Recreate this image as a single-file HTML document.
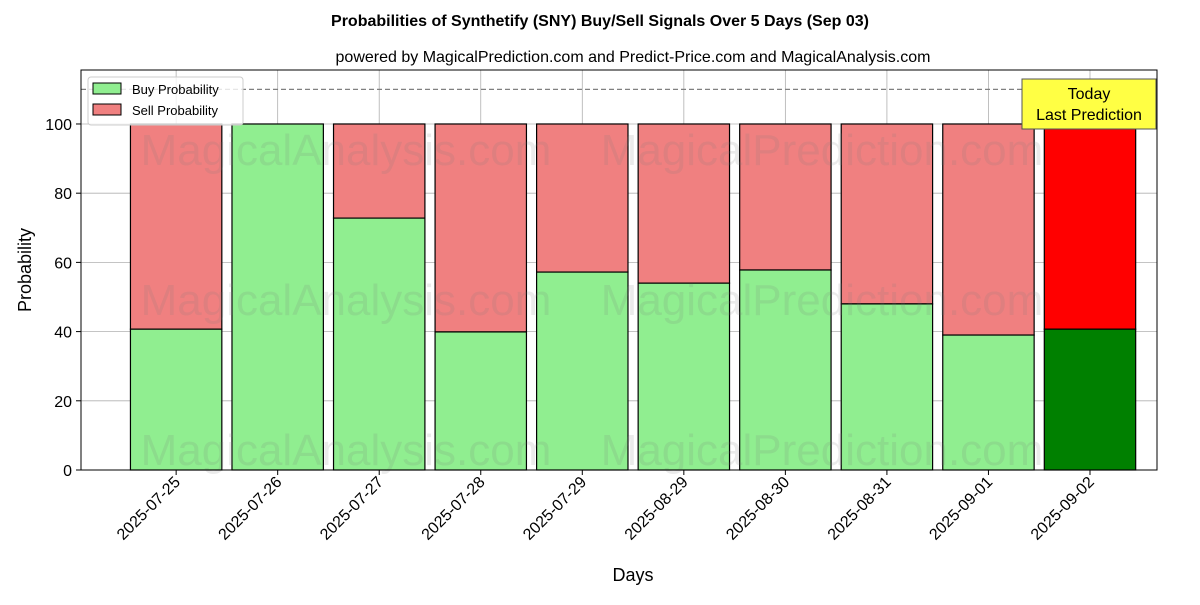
<!DOCTYPE html>
<html><head><meta charset="utf-8"><style>
body{margin:0;background:#fff;font-family:"Liberation Sans","DejaVu Sans",sans-serif;}
</style></head><body>
<svg id="chart" width="1200" height="600" xmlns="http://www.w3.org/2000/svg">
<text x="600" y="26" text-anchor="middle" font-size="16" font-weight="bold">Probabilities of Synthetify (SNY) Buy/Sell Signals Over 5 Days (Sep 03)</text>
<text x="633" y="62" text-anchor="middle" font-size="16">powered by MagicalPrediction.com and Predict-Price.com and MagicalAnalysis.com</text>
<g id="plot"></g>
<text x="633" y="581" text-anchor="middle" font-size="18">Days</text>
<text transform="translate(31,270) rotate(-90)" text-anchor="middle" font-size="18">Probability</text>
</svg>
<script>
const categories=["2025-07-25","2025-07-26","2025-07-27","2025-07-28","2025-07-29","2025-08-29","2025-08-30","2025-08-31","2025-09-01","2025-09-02"];
const buyValues=[40.7,100,72.8,39.9,57.2,54.0,57.8,48.0,39.0,40.7];
const yTicks=[0,20,40,60,80,100];
const NS="http://www.w3.org/2000/svg";
const L=81,R=1157,T=70,B=470;
const xmin=-0.937,xmax=9.66,ymin=0,ymax=115.6;
const xs=i=>L+(i-xmin)/(xmax-xmin)*(R-L);
const ys=v=>B-(v-ymin)/(ymax-ymin)*(B-T);
const bw=(xs(1)-xs(0))*0.9;
const g=document.getElementById('plot');
function mk(t,a){const e=document.createElementNS(NS,t);for(const k in a)e.setAttribute(k,a[k]);g.appendChild(e);return e;}
// grid
yTicks.forEach(v=>{const e=mk('line',{x1:L,x2:R,y1:ys(v),y2:ys(v),stroke:'#b0b0b0','stroke-width':0.8});

});
categories.forEach((c,i)=>{const e=mk('line',{x1:xs(i),x2:xs(i),y1:T,y2:B,stroke:'#b0b0b0','stroke-width':0.8});

});
// bars
categories.forEach((c,i)=>{
const last=i===categories.length-1;
const b=buyValues[i];
const s=mk('rect',{x:xs(i)-bw/2,y:ys(100),width:bw,height:ys(b)-ys(100),fill:last?'#ff0000':'#f08080',stroke:'#000','stroke-width':1.2});


const r=mk('rect',{x:xs(i)-bw/2,y:ys(b),width:bw,height:ys(0)-ys(b),fill:last?'#008000':'#90ee90',stroke:'#000','stroke-width':1.2});


});
// watermarks
[[346,150,'MagicalAnalysis.com'],[822,150,'MagicalPrediction.com'],[346,300,'MagicalAnalysis.com'],[822,300,'MagicalPrediction.com'],[346,450,'MagicalAnalysis.com'],[822,450,'MagicalPrediction.com']].forEach(w=>{
const t=mk('text',{x:w[0],y:w[1]+15,'text-anchor':'middle','font-size':44,fill:'rgba(120,120,120,0.15)'});t.textContent=w[2];

});
// dashed line
const d=mk('line',{x1:L,x2:R,y1:ys(110),y2:ys(110),stroke:'#808080','stroke-width':1.2,'stroke-dasharray':'5,3'});


// frame
const f=mk('rect',{x:L,y:T,width:R-L,height:B-T,fill:'none',stroke:'#000','stroke-width':1});


// y ticks
yTicks.forEach(v=>{mk('line',{x1:L-5,x2:L,y1:ys(v),y2:ys(v),stroke:'#000'});
const t=mk('text',{x:L-9,y:ys(v)+6,'text-anchor':'end','font-size':16});t.textContent=v;

});
// x ticks
categories.forEach((c,i)=>{mk('line',{x1:xs(i),x2:xs(i),y1:B,y2:B+5,stroke:'#000'});
const tx=xs(i)+5,ty=B+13;
const t=mk('text',{x:tx,y:ty,'text-anchor':'end','font-size':16,transform:`rotate(-45 ${tx} ${ty})`});t.textContent=c;

});
// annotation
const ab=mk('rect',{x:1022,y:79,width:134,height:50,fill:'#ffff44',stroke:'#555','stroke-width':1});


[['Today',99],['Last Prediction',120]].forEach(a=>{const t=mk('text',{x:1089,y:a[1],'text-anchor':'middle','font-size':16});t.textContent=a[0];

});
// legend
const lg=mk('rect',{x:88,y:77,width:155,height:48,fill:'#fff','fill-opacity':0.8,stroke:'#ccc',rx:3});


[['Buy Probability','#90ee90',83],['Sell Probability','#f08080',104]].forEach(l=>{
const s=mk('rect',{x:93,y:l[2],width:28,height:11,fill:l[1],stroke:'#000'});


const t=mk('text',{x:132,y:l[2]+11,'font-size':13});t.textContent=l[0];

});
</script>
</body></html>
